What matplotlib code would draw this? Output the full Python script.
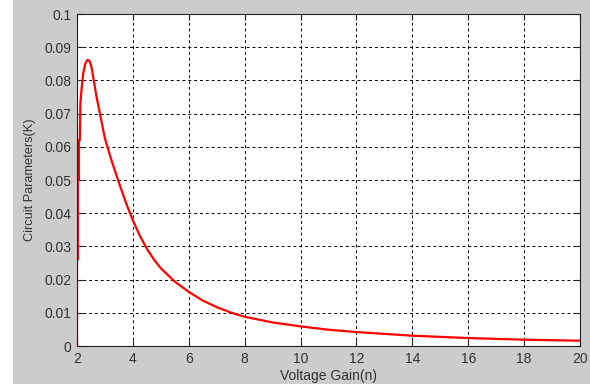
import matplotlib
matplotlib.use('Agg')
import matplotlib.pyplot as plt
from matplotlib.patches import Rectangle

# voltage gain n and circuit parameter K
gain = [2.0, 2.0, 2.03, 2.03, 2.07, 2.07, 2.1, 2.12, 2.17, 2.22, 2.3, 2.38, 2.45,
        2.52, 2.6, 2.7, 2.82, 3.0, 3.25, 3.5, 3.75, 4.0, 4.25, 4.5, 4.75, 5.0,
        5.5, 6.0, 6.5, 7.0, 7.5, 8.0, 9.0, 10.0, 11.0, 12.0, 14.0, 16.0, 18.0,
        20.0]
kval = [0.0, 0.026, 0.026, 0.05, 0.05, 0.062, 0.062, 0.073, 0.078, 0.082,
        0.0852, 0.0862, 0.0858, 0.084, 0.08, 0.075, 0.07, 0.0625, 0.0555,
        0.0492, 0.0432, 0.0378, 0.0332, 0.0293, 0.0261, 0.0234, 0.0194, 0.0163,
        0.0137, 0.0117, 0.0101, 0.0088, 0.0071, 0.0059, 0.0049, 0.0042,
        0.0031, 0.0024, 0.0019, 0.0016]

xticks = list(range(2, 21, 2))
yticks = [i / 100 for i in range(0, 11)]
yticklabels = ['0'] + ['%.2f' % v for v in yticks[1:-1]] + ['0.1']

plt.rcParams['font.family'] = ['Liberation Sans', 'DejaVu Sans']

fig = plt.figure(figsize=(5.9, 3.84), dpi=100, facecolor='#cccccc')
fig.patches.append(Rectangle((0, 0), 13 / 590, 1, transform=fig.transFigure,
                             facecolor='white', edgecolor='none', zorder=-1))
ax = fig.add_axes([77 / 590, 1 - 346 / 384, 503 / 590, 332 / 384])
ax.set_facecolor('white')

ax.plot(gain, kval, color='red', linewidth=1.6)

ax.set_xlim(2, 20)
ax.set_ylim(0, 0.1)
ax.set_xticks(xticks)
ax.set_xticklabels([str(t) for t in xticks])
ax.set_yticks(yticks)
ax.set_yticklabels(yticklabels)
ax.tick_params(direction='in', top=True, right=True, length=4, width=0.8,
               labelsize=10, colors='#222222', labelcolor='#333333')
ax.tick_params(axis='x', pad=4.5)
ax.tick_params(axis='y', pad=4)
ax.grid(True, color='black', linestyle=(0, (3, 3)), linewidth=0.7)
for s in ax.spines.values():
    s.set_linewidth(0.8)
    s.set_color('#222222')

ax.set_xlabel('Voltage Gain(n)', fontsize=10, labelpad=2, color='#333333')
ax.set_ylabel('Circuit Parameters(K)', fontsize=9.2, labelpad=6, color='#333333')

fig.savefig('out.png', dpi=100, facecolor=fig.get_facecolor())
